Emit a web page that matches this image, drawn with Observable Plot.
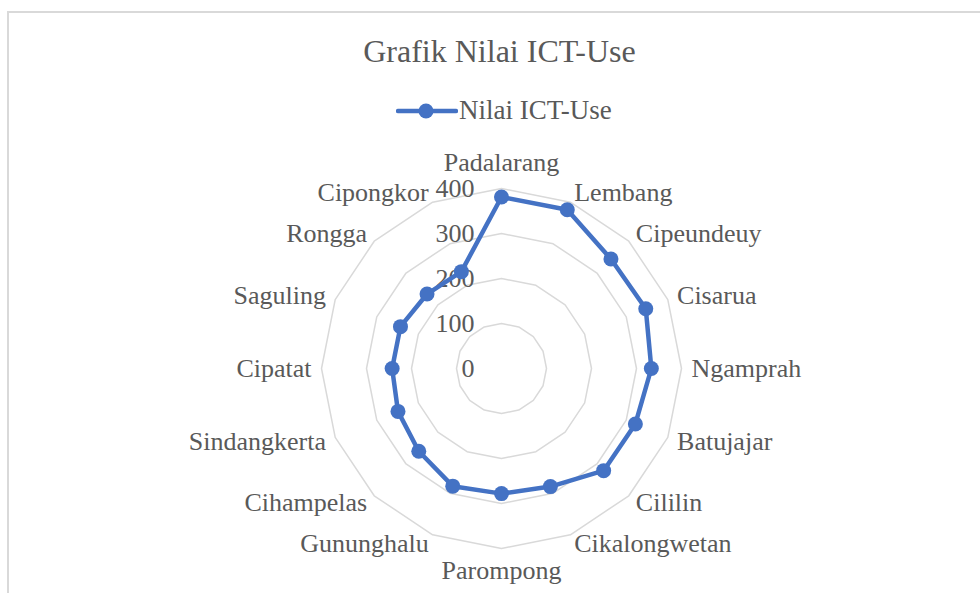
<!DOCTYPE html>
<html>
<head>
<meta charset="utf-8">
<script src="https://cdn.jsdelivr.net/npm/d3@7"></script>
<script src="https://cdn.jsdelivr.net/npm/@observablehq/plot@0.6"></script>
<style>
  html, body { margin: 0; padding: 0; background: #fff; }
  #wrap { position: relative; width: 980px; height: 593px; overflow: hidden; font-family: "Liberation Serif", "Times New Roman", serif; color: #595959; }
  #frame { position: absolute; left: 7px; top: 11px; width: 1000px; height: 620px; border-left: 2px solid #d9d9d9; border-top: 2px solid #d9d9d9; }
  #title { position: absolute; left: 0; top: 35px; width: 999px; text-align: center; font-size: 32px; line-height: 32px; white-space: nowrap; }
  #legend-key { position: absolute; left: 396px; top: 101px; }
  #legend-text { position: absolute; left: 459px; top: 97px; font-size: 27px; line-height: 27px; white-space: nowrap; }
  #chart { position: absolute; left: 0; top: 140px; }
</style>
</head>
<body>
<div id="wrap">
  <div id="frame"></div>
  <div id="title"></div>
  <svg id="legend-key" width="62" height="20"></svg>
  <div id="legend-text"></div>
  <div id="chart"></div>
</div>
<script>
// ---- data ----
const titleText = "Grafik Nilai ICT-Use";
const seriesName = "Nilai ICT-Use";
const categories = ["Padalarang", "Lembang", "Cipeundeuy", "Cisarua", "Ngamprah", "Batujajar", "Cililin", "Cikalongwetan",
                    "Parompong", "Gununghalu", "Cihampelas", "Sindangkerta", "Cipatat", "Saguling", "Rongga", "Cipongkor"];
const values = [381, 382, 344, 347, 333, 322, 321, 284, 278, 283, 260, 249, 243, 243, 234, 233];
const ringValues = [100, 200, 300, 400];
const tickLabels = [0, 100, 200, 300, 400];

// ---- layout ----
const W = 980, H = 453, cx = 501, cy = 228;
const pxPerUnit = 0.45;
const blue = "#4472C4", grey = "#595959", gridColor = "#d9d9d9";
const n = categories.length;
const ang = i => (i * 2 * Math.PI) / n;

document.getElementById("title").textContent = titleText;
document.getElementById("legend-text").textContent = seriesName;
const key = d3.select("#legend-key");
key.append("line").attr("x1", 2).attr("x2", 60).attr("y1", 10).attr("y2", 10)
  .attr("stroke", blue).attr("stroke-width", 4.5).attr("stroke-linecap", "round");
key.append("circle").attr("cx", 30).attr("cy", 10).attr("r", 7.5).attr("fill", blue);

const points = categories.map((c, i) => ({cat: c, i, a: ang(i), v: values[i]}));
const closed = [...points, points[0]];
const rings = ringValues.flatMap(r => d3.range(n + 1).map(i => ({ring: r, a: ang(i % n), v: r})));

const toU = pxv => pxv / pxPerUnit;
const sideLabels = points.filter(d => d.i !== 0 && d.i !== n / 2);
const rightLabels = sideLabels.filter(d => d.i < n / 2);
const leftLabels = sideLabels.filter(d => d.i > n / 2);
const topLabels = points.filter(d => d.i === 0);
const bottomLabels = points.filter(d => d.i === n / 2);

const px = (d, r) => r * Math.sin(d.a);
const py = (d, r) => r * Math.cos(d.a);

const labelStyle = {text: "cat", fontSize: 26, fill: grey};

const chart = Plot.plot({
  width: W,
  height: H,
  margin: 0,
  x: {domain: [-cx / pxPerUnit, (W - cx) / pxPerUnit], range: [0, W], axis: null},
  y: {domain: [-(H - cy) / pxPerUnit, cy / pxPerUnit], range: [H, 0], axis: null},
  style: {background: "transparent", fontFamily: "'Liberation Serif', 'Times New Roman', serif", overflow: "visible"},
  marks: [
    Plot.line(rings, {x: d => px(d, d.v), y: d => py(d, d.v), z: "ring", stroke: gridColor, strokeWidth: 1.5}),
    Plot.text(tickLabels, {x: 0, y: d => d, text: d => String(d), textAnchor: "end", dx: -27, fontSize: 26, fill: grey}),
    Plot.line(closed, {x: d => px(d, d.v), y: d => py(d, d.v), stroke: blue, strokeWidth: 4.5, strokeLinejoin: "round"}),
    Plot.dot(points, {x: d => px(d, d.v), y: d => py(d, d.v), r: 7.5, fill: blue, stroke: "none"}),
    Plot.text(rightLabels, {...labelStyle, x: d => px(d, toU(190)), y: d => py(d, toU(190)), textAnchor: "start"}),
    Plot.text(leftLabels, {...labelStyle, x: d => px(d, toU(190)), y: d => py(d, toU(190)), textAnchor: "end"}),
    Plot.text(topLabels, {...labelStyle, x: d => px(d, toU(198)), y: d => py(d, toU(198)), textAnchor: "middle", lineAnchor: "bottom"}),
    Plot.text(bottomLabels, {...labelStyle, x: d => px(d, toU(192)), y: d => py(d, toU(192)), textAnchor: "middle", lineAnchor: "top"})
  ]
});
document.getElementById("chart").appendChild(chart);
</script>
</body>
</html>
